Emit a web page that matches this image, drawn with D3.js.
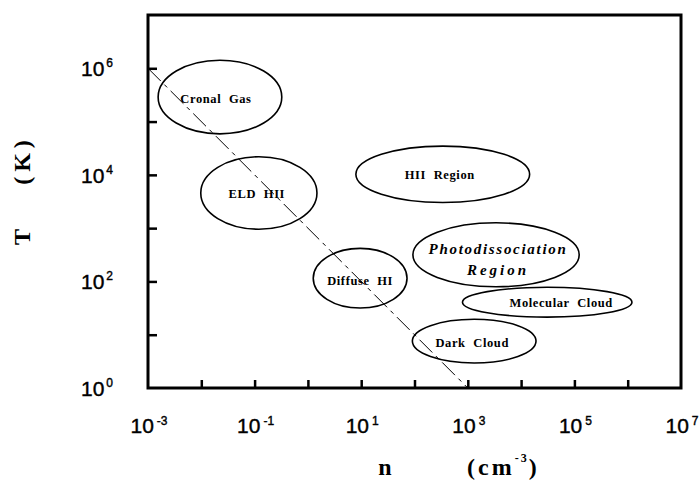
<!DOCTYPE html>
<html>
<head>
<meta charset="utf-8">
<script src="https://cdn.jsdelivr.net/npm/d3@7"></script>
<style>
  html, body { margin: 0; padding: 0; background: #fff; }
  svg { display: block; }
</style>
</head>
<body>
<svg id="chart" width="699" height="480"></svg>
<script>
// Phases of the interstellar medium in the density–temperature plane
const xDecadeTicks = [1e-2, 1e-1, 1e0, 1e1, 1e2, 1e3, 1e4, 1e5, 1e6];
const xLabelExps = [-3, -1, 1, 3, 5, 7];
const yDecadeTicks = [1e1, 1e2, 1e3, 1e4, 1e5, 1e6];
const yLabelExps = [0, 2, 4, 6];

// Region names and extents, in decades: centre log n, centre log T, half-widths
const regionNames = ["Cronal Gas", "ELD HII", "Diffuse HI", "HII Region",
                     "Photodissociation Region", "Molecular Cloud", "Dark Cloud"];
const regionLogN  = [-1.65, -0.92, 0.98, 2.53, 3.53, 4.49, 3.12];
const regionLogT  = [5.46, 3.66, 2.06, 4.01, 2.50, 1.61, 0.88];
const regionHalfN = [1.16, 1.09, 0.88, 1.63, 1.56, 1.59, 1.16];
const regionHalfT = [0.69, 0.68, 0.56, 0.53, 0.60, 0.28, 0.41];

// Constant-pressure line nT = 10^3
const pressureN = [1e-3, 1e3];
const pressureT = [1e6, 1e0];

const svg = d3.select("#chart");
const plotLeft = 148, plotRight = 681, plotTop = 15, plotBottom = 388;

const x = d3.scaleLog().domain([1e-3, 1e7]).range([plotLeft, plotRight]);
const y = d3.scaleLog().domain([1e0, 1e7]).range([plotBottom, plotTop]);

// ticks pointing inward
const gx = svg.append("g").attr("transform", `translate(0,${plotBottom})`)
  .call(d3.axisBottom(x).tickValues(xDecadeTicks).tickSizeInner(-8).tickSizeOuter(0).tickFormat(""));
gx.select(".domain").remove();
gx.selectAll(".tick line").attr("stroke", "#000").attr("stroke-width", 2.5);

const gy = svg.append("g").attr("transform", `translate(${plotLeft},0)`)
  .call(d3.axisLeft(y).tickValues(yDecadeTicks).tickSizeInner(-9).tickSizeOuter(0).tickFormat(""));
gy.select(".domain").remove();
gy.selectAll(".tick line").attr("stroke", "#000").attr("stroke-width", 2.5);

// frame
svg.append("rect")
  .attr("x", plotLeft).attr("y", plotTop)
  .attr("width", plotRight - plotLeft).attr("height", plotBottom - plotTop)
  .attr("fill", "none").attr("stroke", "#000").attr("stroke-width", 3);

// tick labels with superscript exponents
const tickFont = "'Liberation Sans', Arial, sans-serif";
xLabelExps.forEach(e => {
  const t = svg.append("text")
    .attr("x", x(Math.pow(10, e)) + 1).attr("y", 433)
    .attr("text-anchor", "middle")
    .attr("font-family", tickFont).attr("font-size", 21).attr("fill", "#000")
    .attr("stroke", "#000").attr("stroke-width", 0.4);
  t.append("tspan").text("10");
  t.append("tspan").attr("dx", 3).attr("dy", -8).attr("font-size", 12).text(e < 0 ? "-" + (-e) : String(e));
});
yLabelExps.forEach(e => {
  const t = svg.append("text")
    .attr("x", 113).attr("y", y(Math.pow(10, e)) + 8)
    .attr("text-anchor", "end")
    .attr("font-family", tickFont).attr("font-size", 21).attr("fill", "#000")
    .attr("stroke", "#000").attr("stroke-width", 0.4);
  t.append("tspan").text("10");
  t.append("tspan").attr("dx", 2).attr("dy", -9).attr("font-size", 12).text(String(e));
});

// axis titles
const serif = "'Liberation Serif', 'Times New Roman', serif";
svg.append("text").attr("x", 385).attr("y", 475).attr("text-anchor", "middle")
  .attr("font-family", serif).attr("font-size", 24).attr("font-weight", "bold").text("n");
const unit = svg.append("text").attr("x", 467).attr("y", 475)
  .attr("font-family", serif).attr("font-size", 24).attr("font-weight", "bold")
  .attr("letter-spacing", 3);
unit.append("tspan").text("(cm");
unit.append("tspan").attr("dy", -13).attr("font-size", 12).attr("letter-spacing", 2).text("-3");
unit.append("tspan").attr("dy", 13).text(")");

svg.append("text").attr("transform", "translate(30,237) rotate(-90)")
  .attr("text-anchor", "middle").attr("font-family", serif).attr("font-size", 24)
  .attr("font-weight", "bold").text("T");
svg.append("text").attr("transform", "translate(30,160) rotate(-90)")
  .attr("text-anchor", "middle").attr("font-family", serif).attr("font-size", 24)
  .attr("font-weight", "bold").attr("letter-spacing", 5).text("(K)");

// pressure line
const line = d3.line().x(d => x(d[0])).y(d => y(d[1]));
svg.append("path")
  .datum(d3.zip(pressureN, pressureT))
  .attr("d", line)
  .attr("fill", "none").attr("stroke", "#000").attr("stroke-width", 1)
  .attr("stroke-dasharray", "18,5,4,5");

// region ellipses
const regions = regionNames.map((name, i) => {
  const cx = x(Math.pow(10, regionLogN[i]));
  const cy = y(Math.pow(10, regionLogT[i]));
  return {
    name, cx, cy,
    rx: x(Math.pow(10, regionLogN[i] + regionHalfN[i])) - cx,
    ry: cy - y(Math.pow(10, regionLogT[i] + regionHalfT[i]))
  };
});
svg.append("g").selectAll("ellipse").data(regions).join("ellipse")
  .attr("cx", d => d.cx).attr("cy", d => d.cy)
  .attr("rx", d => d.rx).attr("ry", d => d.ry)
  .attr("fill", "none").attr("stroke", "#000").attr("stroke-width", 1.6);

// region labels
const labelOffsets = {
  "Cronal Gas": [-4, 2], "ELD HII": [-2, 1], "Diffuse HI": [0, 2],
  "HII Region": [-3, 0], "Molecular Cloud": [14, 0], "Dark Cloud": [-2, 2]
};
regions.forEach(d => {
  if (d.name === "Photodissociation Region") {
    const t = svg.append("text").attr("text-anchor", "middle")
      .attr("font-family", serif).attr("font-size", 15).attr("font-weight", "bold")
      .attr("font-style", "italic").attr("letter-spacing", 1.7);
    t.append("tspan").attr("x", d.cx + 2).attr("y", d.cy - 1).text("Photodissociation");
    t.append("tspan").attr("x", d.cx + 2).attr("y", d.cy + 20).attr("letter-spacing", 3).text("Region");
    return;
  }
  const off = labelOffsets[d.name];
  svg.append("text")
    .attr("x", d.cx + off[0]).attr("y", d.cy + off[1])
    .attr("dy", "0.35em").attr("text-anchor", "middle")
    .attr("font-family", serif).attr("font-size", 12.5).attr("font-weight", "bold")
    .attr("letter-spacing", 0.6).attr("word-spacing", 4)
    .text(d.name);
});
</script>
</body>
</html>
